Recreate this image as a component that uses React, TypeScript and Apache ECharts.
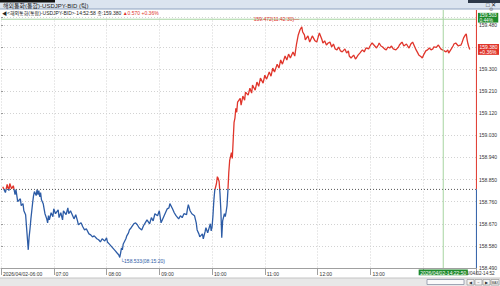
import React, { useEffect, useRef } from "react";
import * as echarts from "echarts";

// USDJPY BID tick chart, 2026/04/02 (time "HH:MM", price)
const ticks: [string, number][] = [
  ["06:02", 158.821], ["06:05", 158.797], ["06:07", 158.830], ["06:09", 158.805], ["06:10", 158.834],
  ["06:12", 158.813], ["06:14", 158.825], ["06:16", 158.789], ["06:17", 158.809], ["06:19", 158.760],
  ["06:22", 158.772], ["06:23", 158.744], ["06:25", 158.752], ["06:26", 158.723], ["06:28", 158.707],
  ["06:29", 158.658], ["06:31", 158.564], ["06:32", 158.617], ["06:33", 158.650], ["06:34", 158.690],
  ["06:35", 158.723], ["06:36", 158.756], ["06:37", 158.785], ["06:38", 158.801], ["06:40", 158.785],
  ["06:41", 158.809], ["06:42", 158.789], ["06:43", 158.805], ["06:44", 158.780], ["06:45", 158.797],
  ["06:46", 158.768], ["06:48", 158.752], ["06:49", 158.731], ["06:50", 158.711], ["06:52", 158.690],
  ["06:53", 158.674], ["06:54", 158.703], ["06:55", 158.686], ["06:57", 158.715], ["06:59", 158.699],
  ["07:00", 158.731], ["07:02", 158.711], ["07:05", 158.727], ["07:06", 158.695], ["07:08", 158.715],
  ["07:10", 158.686], ["07:11", 158.723], ["07:14", 158.707], ["07:16", 158.735], ["07:17", 158.711],
  ["07:19", 158.723], ["07:22", 158.699], ["07:23", 158.690], ["07:25", 158.707], ["07:27", 158.682],
  ["07:28", 158.666], ["07:31", 158.674], ["07:33", 158.658], ["07:35", 158.645], ["07:37", 158.650],
  ["07:40", 158.629], ["07:42", 158.625], ["07:44", 158.617], ["07:46", 158.621], ["07:49", 158.609],
  ["07:51", 158.605], ["07:53", 158.596], ["07:55", 158.609], ["07:58", 158.600], ["08:00", 158.613],
  ["08:01", 158.596], ["08:03", 158.588], ["08:06", 158.576], ["08:08", 158.568], ["08:10", 158.560],
  ["08:12", 158.551], ["08:14", 158.543], ["08:15", 158.533], ["08:16", 158.551], ["08:17", 158.572],
  ["08:18", 158.564], ["08:19", 158.588], ["08:22", 158.609], ["08:23", 158.621], ["08:25", 158.633],
  ["08:26", 158.645], ["08:28", 158.654], ["08:31", 158.670], ["08:33", 158.674], ["08:35", 158.666],
  ["08:37", 158.654], ["08:40", 158.645], ["08:42", 158.662], ["08:44", 158.674], ["08:46", 158.686],
  ["08:49", 158.670], ["08:51", 158.695], ["08:53", 158.682], ["08:55", 158.711], ["08:58", 158.703],
  ["09:00", 158.723], ["09:02", 158.674], ["09:05", 158.699], ["09:07", 158.715], ["09:09", 158.731],
  ["09:11", 158.735], ["09:12", 158.752], ["09:15", 158.731], ["09:17", 158.715], ["09:19", 158.703],
  ["09:22", 158.690], ["09:24", 158.703], ["09:26", 158.695], ["09:28", 158.711], ["09:31", 158.707],
  ["09:32", 158.731], ["09:33", 158.748], ["09:35", 158.723], ["09:37", 158.711], ["09:40", 158.703],
  ["09:42", 158.674], ["09:43", 158.645], ["09:45", 158.629], ["09:46", 158.617], ["09:49", 158.629],
  ["09:50", 158.609], ["09:52", 158.637], ["09:53", 158.654], ["09:55", 158.633], ["09:58", 158.670],
  ["09:59", 158.641], ["10:00", 158.658], ["10:01", 158.703], ["10:02", 158.764], ["10:03", 158.805],
  ["10:05", 158.834], ["10:06", 158.862], ["10:07", 158.854], ["10:08", 158.842], ["10:09", 158.793],
  ["10:10", 158.723], ["10:11", 158.613], ["10:12", 158.682], ["10:14", 158.711], ["10:15", 158.699],
  ["10:16", 158.719], ["10:17", 158.744], ["10:18", 158.805], ["10:19", 158.879], ["10:20", 158.928],
  ["10:22", 158.960], ["10:23", 158.936], ["10:24", 159.010], ["10:25", 159.083], ["10:26", 159.100],
  ["10:27", 159.140], ["10:28", 159.124], ["10:29", 159.165], ["10:32", 159.181], ["10:33", 159.153],
  ["10:35", 159.190], ["10:37", 159.173], ["10:38", 159.206], ["10:41", 159.194], ["10:43", 159.222],
  ["10:45", 159.202], ["10:46", 159.235], ["10:49", 159.214], ["10:51", 159.247], ["10:53", 159.230],
  ["10:55", 159.263], ["10:58", 159.243], ["11:00", 159.275], ["11:02", 159.259], ["11:05", 159.288],
  ["11:07", 159.271], ["11:09", 159.304], ["11:11", 159.288], ["11:14", 159.320], ["11:16", 159.304],
  ["11:18", 159.337], ["11:20", 159.320], ["11:23", 159.353], ["11:25", 159.337], ["11:27", 159.361],
  ["11:29", 159.345], ["11:32", 159.370], ["11:34", 159.353], ["11:36", 159.402], ["11:38", 159.439],
  ["11:40", 159.460], ["11:42", 159.472], ["11:43", 159.451], ["11:45", 159.439], ["11:46", 159.419],
  ["11:49", 159.435], ["11:51", 159.410], ["11:53", 159.427], ["11:54", 159.435], ["11:57", 159.415],
  ["11:59", 159.410], ["12:01", 159.435], ["12:02", 159.447], ["12:05", 159.419], ["12:06", 159.406],
  ["12:08", 159.415], ["12:10", 159.398], ["12:12", 159.406], ["12:14", 159.410], ["12:16", 159.390],
  ["12:18", 159.402], ["12:20", 159.382], ["12:22", 159.378], ["12:24", 159.390], ["12:26", 159.374],
  ["12:28", 159.370], ["12:31", 159.382], ["12:33", 159.365], ["12:35", 159.374], ["12:36", 159.353],
  ["12:38", 159.345], ["12:41", 159.357], ["12:43", 159.341], ["12:44", 159.345], ["12:46", 159.357],
  ["12:48", 159.365], ["12:50", 159.374], ["12:51", 159.378], ["12:53", 159.370], ["12:55", 159.386],
  ["12:58", 159.382], ["12:59", 159.390], ["13:01", 159.402], ["13:02", 159.406], ["13:05", 159.394],
  ["13:07", 159.386], ["13:09", 159.398], ["13:10", 159.406], ["13:12", 159.394], ["13:14", 159.390],
  ["13:16", 159.382], ["13:18", 159.378], ["13:20", 159.390], ["13:22", 159.386], ["13:24", 159.394],
  ["13:26", 159.382], ["13:29", 159.378], ["13:32", 159.390], ["13:33", 159.398], ["13:35", 159.406],
  ["13:36", 159.410], ["13:38", 159.394], ["13:41", 159.402], ["13:43", 159.390], ["13:44", 159.386],
  ["13:46", 159.402], ["13:48", 159.410], ["13:50", 159.394], ["13:52", 159.378], ["13:54", 159.365],
  ["13:55", 159.357], ["13:58", 159.349], ["13:59", 159.345], ["14:01", 159.361], ["14:03", 159.374],
  ["14:05", 159.378], ["14:07", 159.386], ["14:09", 159.378], ["14:11", 159.382], ["14:12", 159.390],
  ["14:15", 159.388], ["14:17", 159.398], ["14:18", 159.394], ["14:20", 159.382], ["14:22", 159.378],
  ["14:24", 159.374], ["14:26", 159.370], ["14:28", 159.378], ["14:29", 159.365], ["14:32", 159.382],
  ["14:34", 159.394], ["14:35", 159.402], ["14:37", 159.406], ["14:40", 159.394], ["14:41", 159.396],
  ["14:43", 159.398], ["14:44", 159.406], ["14:46", 159.427], ["14:48", 159.439], ["14:49", 159.443],
  ["14:50", 159.419], ["14:51", 159.402], ["14:52", 159.390], ["14:53", 159.380],
];

const prevClose = 158.81;
const lastClock = "14:52:58";
const datePrefix = "2026/04/02";
const crossClock = "14:22:50";
const crossPrice = 159.503;
const maxMark: [string, number] = ["11:42:30", 159.472];
const minMark: [string, number] = ["08:15:20", 158.533];
const yMin = 158.49;
const yMax = 159.51;
const yStep = 0.09;
const xHours = ["06:00", "07:00", "08:00", "09:00", "10:00", "11:00", "12:00", "13:00", "14:00", "15:00"];
const titleText = "해외통화(통합)-USDJPY-BID (틱)";
const seriesName = "<해외통화(통합)-USDJPY-BID>";

const RED = "#e0352b";
const BLUE = "#2d5ca6";
const GREEN_BOX = "#1e8a2c";
const GREEN_LINE = "#a6d4a0";
const FONT = '"Liberation Sans", "Noto Sans CJK KR", sans-serif';

function toMin(t: string): number {
  const p = t.split(":").map(Number);
  return (p[0] - 6) * 60 + p[1] + (p[2] || 0) / 60;
}

export default function App() {
  const ref = useRef<HTMLDivElement>(null);

  useEffect(() => {
    document.body.style.margin = "0";
    if (!ref.current) return;
    const chart = echarts.init(ref.current, undefined, { renderer: "svg" });

    const data = ticks.map(([t, v]) => [toMin(t), v]);
    const lastPrice = ticks[ticks.length - 1][1];
    const change = lastPrice - prevClose;
    const lastPct = (change / prevClose) * 100;
    const crossPct = ((crossPrice - prevClose) / prevClose) * 100;
    const xMax = toMin(xHours[xHours.length - 1]);
    const crossMin = toMin(crossClock);

    const frame: any[] = [
      { type: "rect", z: 10, shape: { x: 0, y: 0, width: 500, height: 9 }, style: { fill: "#dbe4ef" } },
      { type: "rect", z: 11, shape: { x: 0, y: 0, width: 55, height: 2.5 }, style: { fill: "#111" } },
      { type: "rect", z: 11, shape: { x: 468, y: 0, width: 32, height: 3 }, style: { fill: "#2d3848" } },
      { type: "line", z: 11, shape: { x1: 0, y1: 9, x2: 500, y2: 9 }, style: { stroke: "#8ea3bf", lineWidth: 1 } },
      { type: "text", z: 12, x: 3, y: 5.5, style: { text: titleText, fontSize: 6, fontFamily: FONT, fill: "#222", verticalAlign: "middle" } },
      { type: "text", z: 12, x: 486, y: 5, style: { text: "□ ✕", fontSize: 6, fontFamily: FONT, fill: "#222", verticalAlign: "middle" } },
      {
        type: "text", z: 12, x: 2, y: 12.5,
        style: {
          text: `{a|◀${seriesName}·${lastClock} 종:${lastPrice.toFixed(3)} }{r|▲${change.toFixed(3)} +${lastPct.toFixed(2)}%}`,
          fontSize: 5, fontFamily: FONT, verticalAlign: "middle",
          rich: { a: { fontSize: 5, fill: "#222", fontFamily: FONT }, r: { fontSize: 5, fill: RED, fontFamily: FONT } },
        },
      },
      { type: "text", z: 12, x: 489, y: 9.8, style: { text: "⚙", fontSize: 4.5, fontFamily: FONT, fill: "#777", verticalAlign: "middle" } },
      { type: "rect", z: 10, shape: { x: 0, y: 278, width: 500, height: 8 }, style: { fill: "#e8e8e8" } },
      { type: "line", z: 11, shape: { x1: 0, y1: 278, x2: 500, y2: 278 }, style: { stroke: "#c4c4c4", lineWidth: 1 } },
      { type: "rect", z: 11, shape: { x: 427, y: 279.5, width: 37, height: 5 }, style: { fill: "#fafafa", stroke: "#8a93a6", lineWidth: 0.8 } },
      { type: "rect", z: 11, shape: { x: 467, y: 279.5, width: 7, height: 5.5 }, style: { fill: "#f4f4f4", stroke: "#888", lineWidth: 0.6 } },
      { type: "rect", z: 11, shape: { x: 475, y: 279.5, width: 7, height: 5.5 }, style: { fill: "#f4f4f4", stroke: "#888", lineWidth: 0.6 } },
      { type: "rect", z: 11, shape: { x: 483, y: 279.5, width: 7, height: 5.5 }, style: { fill: "#f4f4f4", stroke: "#888", lineWidth: 0.6 } },
      { type: "rect", z: 11, shape: { x: 491, y: 279.5, width: 8, height: 5.5 }, style: { fill: "#f4f4f4", stroke: "#888", lineWidth: 0.6 } },
      { type: "text", z: 12, x: 470.5, y: 282.3, style: { text: "◀", fontSize: 4, fill: "#333", align: "center", verticalAlign: "middle" } },
      { type: "text", z: 12, x: 478.5, y: 282.3, style: { text: "−", fontSize: 4, fill: "#333", align: "center", verticalAlign: "middle" } },
      { type: "text", z: 12, x: 486.5, y: 282.3, style: { text: "▶", fontSize: 4, fill: "#333", align: "center", verticalAlign: "middle" } },
      { type: "text", z: 12, x: 495, y: 282.3, style: { text: "MAX", fontSize: 3, fill: "#333", align: "center", verticalAlign: "middle" } },
    ];

    const option: any = {
      animation: false,
      backgroundColor: "#ffffff",
      textStyle: { fontFamily: FONT },
      grid: { left: 0, right: 24, top: 17.5, bottom: 18, containLabel: false },
      xAxis: {
        type: "value",
        min: 0,
        max: xMax,
        interval: 60,
        axisLine: { show: true, lineStyle: { color: "#a0a0a0", width: 1 } },
        axisTick: { show: true, length: 7, lineStyle: { color: "#a0a0a0" } },
        axisLabel: {
          show: true, fontSize: 5, color: "#333", align: "left", margin: 3, padding: [0, 0, 0, 2],
          fontFamily: FONT,
          formatter: (v: number) => {
            // the last tick and the one under the crosshair time box are not shown
            if (v >= xMax || Math.abs(v - crossMin) < 30) return "";
            const lbl = xHours[Math.round(v / 60)] || "";
            return v === 0 ? `${datePrefix}-${lbl}` : lbl;
          },
        },
        splitLine: { show: true, lineStyle: { color: "#d2d2d2", type: [1, 2], width: 1 } },
      },
      yAxis: {
        type: "value",
        position: "right",
        min: yMin,
        max: yMax,
        interval: yStep,
        axisLine: { show: false },
        axisTick: { show: true, length: 2, lineStyle: { color: "#999" } },
        axisLabel: {
          fontSize: 5, color: "#333", margin: 3, fontFamily: FONT,
          formatter: (v: number) => (v >= yMax - 1e-6 ? "" : v.toFixed(3)),
        },
        splitLine: { show: true, lineStyle: { color: "#d2d2d2", type: [1, 2], width: 1 } },
      },
      series: [
        {
          type: "line",
          data,
          showSymbol: false,
          symbol: "none",
          lineStyle: { width: 1.3, color: RED },
          z: 3,
        },
      ],
      graphic: frame,
    };

    chart.setOption(option);

    const px = (x: number, y: number) => chart.convertToPixel({ gridIndex: 0 } as any, [x, y]) as number[];
    const pTop = px(xMax, yMax);
    const pMid = px(xMax, prevClose);
    const pBot = px(xMax, yMin);
    const pLeft = px(0, prevClose);
    const pCrossH = px(0, crossPrice);
    const pCrossV = px(crossMin, yMin);
    const pLast = px(xMax, lastPrice);
    const pMax = px(toMin(maxMark[0]), maxMark[1]);
    const pMin = px(toMin(minMark[0]), minMark[1]);
    const rx = pTop[0];
    const split = (pMid[1] - pTop[1]) / (pBot[1] - pTop[1]);
    const timeBoxHalf = 22.5;

    const boxText = (x: number, y: number, text: string, bg: string, align = "left", vAlign = "middle", lh = 5.2, fs = 5) => ({
      type: "text", z: 20, x, y,
      style: {
        text, fill: "#fff", fontSize: fs, lineHeight: lh, fontFamily: FONT, align, verticalAlign: vAlign,
        backgroundColor: bg, padding: [0.5, 1.5, 0, 1.5],
      },
    });

    const overlays: any[] = [
      { type: "line", z: 4, shape: { x1: pLeft[0], y1: pLeft[1], x2: rx, y2: pMid[1] }, style: { stroke: "#555", lineWidth: 1, lineDash: [1, 2] } },
      { type: "line", z: 4, shape: { x1: pLeft[0], y1: pCrossH[1], x2: rx, y2: pCrossH[1] }, style: { stroke: GREEN_LINE, lineWidth: 1 } },
      { type: "line", z: 4, shape: { x1: pCrossV[0], y1: 10, x2: pCrossV[0], y2: pCrossV[1] }, style: { stroke: GREEN_LINE, lineWidth: 1 } },
      { type: "line", z: 5, shape: { x1: rx + 0.5, y1: 10, x2: rx + 0.5, y2: pMid[1] }, style: { stroke: RED, lineWidth: 1 } },
      { type: "line", z: 5, shape: { x1: rx + 0.5, y1: pMid[1], x2: rx + 0.5, y2: pBot[1] }, style: { stroke: BLUE, lineWidth: 1 } },
      boxText(rx + 2, pCrossH[1] - 1.5, `${crossPrice.toFixed(3)}\n${crossPct.toFixed(2)}%`, GREEN_BOX, "left", "middle", 4.6, 4.8),
      boxText(rx + 2, pLast[1], `${lastPrice.toFixed(3)}\n+${lastPct.toFixed(2)}%`, RED),
      boxText(pCrossV[0], pCrossV[1] + 1.5, `${datePrefix}-${crossClock}`, GREEN_BOX, "center", "top"),
      {
        type: "text", z: 1, x: pCrossV[0] + timeBoxHalf + 0.5, y: 273.5,
        style: { text: `${datePrefix.slice(3)}-${lastClock.slice(0, 5)}`, fontSize: 4.6, fontFamily: FONT, fill: "#333", align: "left", verticalAlign: "middle" },
      },
      {
        type: "text", z: 20, x: pMax[0] - 3, y: pMax[1] - 8,
        style: { text: `${maxMark[1].toFixed(3)}(${maxMark[0]})—`, fill: RED, fontSize: 5, fontFamily: FONT, align: "right", verticalAlign: "middle" },
      },
      {
        type: "text", z: 20, x: pMin[0] + 0.5, y: pMin[1] + 4,
        style: { text: `└${minMark[1].toFixed(3)}(${minMark[0]})`, fill: BLUE, fontSize: 5, fontFamily: FONT, align: "left", verticalAlign: "middle" },
      },
    ];

    chart.setOption({
      series: [
        {
          lineStyle: {
            color: new echarts.graphic.LinearGradient(0, pTop[1], 0, pBot[1], [
              { offset: 0, color: RED },
              { offset: split, color: RED },
              { offset: split, color: BLUE },
              { offset: 1, color: BLUE },
            ], true),
          },
        },
      ],
      graphic: [...frame, ...overlays],
    });

    return () => chart.dispose();
  }, []);

  return <div ref={ref} style={{ width: 500, height: 286 }} />;
}
